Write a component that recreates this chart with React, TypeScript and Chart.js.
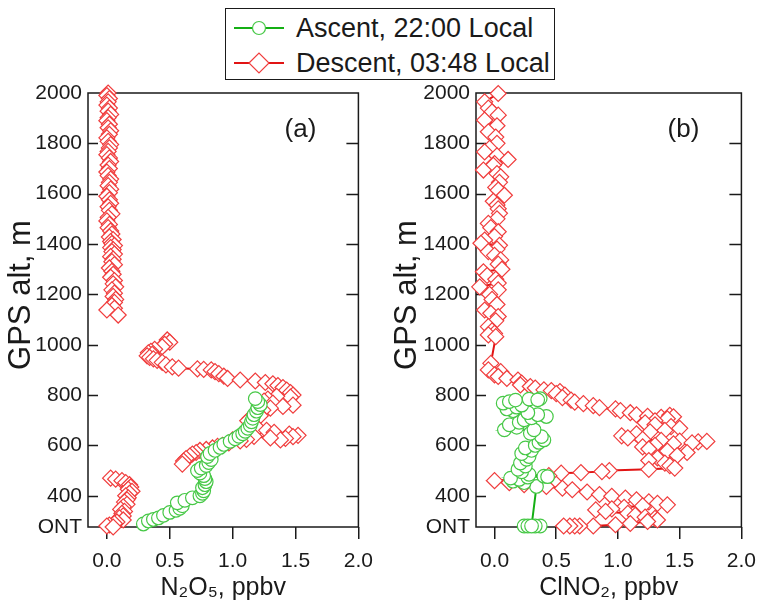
import React, { useEffect, useRef } from "react";
import { Chart, registerables } from "chart.js";

Chart.register(...registerables);

const FONT = "'Liberation Sans', Arial, Helvetica, sans-serif";

// ---- axes ----
const X_MIN = -0.15;
const X_MAX = 2.0;
const Y_MIN = 276; // ONT ground level
const Y_MAX = 2000;
const xTickValues = [0, 0.5, 1.0, 1.5, 2.0];
const yTickValues = [276, 400, 600, 800, 1000, 1200, 1400, 1600, 1800, 2000];
const yTickLabels = ["ONT", "400", "600", "800", "1000", "1200", "1400", "1600", "1800", "2000"];
const yTitle = "GPS alt, m";

const seriesLabels = ["Ascent, 22:00 Local", "Descent, 03:48 Local"];

// ---- panel (a): N2O5 ----
const aAscentAlt = [
  288, 300, 306, 312, 322, 334, 342, 350, 360, 372,
  382, 392, 400, 410, 420, 432, 444, 456, 468, 480,
  490, 500, 510, 520, 532, 544, 556, 568, 580, 592,
  604, 616, 626, 636, 646, 656, 668, 680, 694, 708,
  722, 736, 750, 762, 774, 786,
];
const aAscentN2O5 = [
  0.29, 0.33, 0.37, 0.41, 0.45, 0.50, 0.55, 0.58, 0.60, 0.56,
  0.62, 0.68, 0.74, 0.76, 0.77, 0.76, 0.78, 0.79, 0.78, 0.77,
  0.74, 0.72, 0.75, 0.79, 0.81, 0.83, 0.80, 0.82, 0.86, 0.90,
  0.93, 0.98, 1.02, 1.05, 1.08, 1.10, 1.12, 1.14, 1.15, 1.16,
  1.17, 1.19, 1.20, 1.22, 1.20, 1.18,
];
const aDescentAlt = [
  2000, 1990, 1978, 1965, 1952, 1940, 1928, 1915, 1902, 1890,
  1876, 1862, 1850, 1836, 1822, 1808, 1795, 1782, 1768, 1755,
  1742, 1728, 1714, 1700, 1686, 1672, 1658, 1645, 1632, 1618,
  1604, 1590, 1576, 1562, 1548, 1534, 1520, 1506, 1492, 1478,
  1465, 1452, 1440, 1428, 1418, 1410, 1402, 1394, 1386, 1378,
  1370, 1360, 1350, 1340, 1330, 1318, 1305, 1292, 1280, 1268,
  1255, 1242, 1230, 1218, 1205, 1192, 1180, 1168, 1156, 1145,
  1138, 1118, null,
  1019, 1010, 1002, 992, 982, 974, 968, 962, 956, 950,
  944, 938, 930, 920, 912, 907, 904, 902, 900, 893,
  885, 875, 866, 860, 856, 850, 845, 838, 830, 820,
  810, 800, 792, 795, 784, 776, 768, 760, 755, 748,
  740, 728, 718, 708, 698, 688, 676, 668, 660, 652,
  645, 640, 635, 628, 622, 630, 636, 624, 618, 622,
  610, 600, 596, 590, 584, 580, 572, 566, 558, 548,
  538, 526, null,
  470, 466, 460, 452, 444, 435, 426, 418, 410, 400,
  392, 384, 375, 366, 356, 346, 338, 330, 320, 312,
  304, 296, 290, 284, 280, 276,
];
const aDescentN2O5 = [
  0.01, 0.00, 0.02, 0.01, 0.00, 0.02, 0.01, 0.03, 0.01, 0.00,
  0.02, 0.01, 0.03, 0.02, 0.00, 0.01, 0.03, 0.02, 0.01, 0.00,
  0.02, 0.03, 0.01, 0.02, 0.00, 0.01, 0.03, 0.02, 0.01, 0.03,
  0.02, 0.00, 0.02, 0.03, 0.01, 0.02, 0.04, 0.01, 0.00, 0.02,
  0.01, 0.03, 0.04, 0.02, 0.05, 0.03, 0.04, 0.06, 0.03, 0.05,
  0.04, 0.06, 0.03, 0.05, 0.04, 0.06, 0.02, 0.04, 0.05, 0.03,
  0.06, 0.05, 0.07, 0.04, 0.06, 0.05, 0.07, 0.06, 0.04, 0.06,
  0.00, 0.09, null,
  0.48, 0.50, 0.46, 0.44, 0.38, 0.35, 0.33, 0.36, 0.32, 0.34,
  0.37, 0.40, 0.44, 0.47, 0.52, 0.57, 0.72, 0.77, 0.83, 0.86,
  0.89, 0.93, 0.96, 1.06, 1.18, 1.26, 1.32, 1.36, 1.40, 1.43,
  1.46, 1.48, 1.46, 1.35, 1.28, 1.25, 1.32, 1.48, 1.40, 1.30,
  1.24, 1.20, 1.22, 1.14, 1.12, 1.16, 1.14, 1.20, 1.27, 1.33,
  1.45, 1.52, 1.48, 1.42, 1.38, 1.30, 1.17, 1.11, 1.06, 1.00,
  0.97, 0.92, 0.88, 0.84, 0.79, 0.74, 0.71, 0.68, 0.66, 0.63,
  0.61, 0.60, null,
  0.03, 0.07, 0.12, 0.15, 0.18, 0.19, 0.17, 0.20, 0.18, 0.15,
  0.17, 0.16, 0.14, 0.16, 0.13, 0.11, 0.14, 0.12, 0.13, 0.10,
  0.13, 0.08, 0.06, 0.02, 0.00, 0.05,
];

// ---- panel (b): ClNO2 ----
const bAscentAlt = [
  280, 280, 280, 280, 280, 437, 452, 458, 465, 470,
  474, 478, 476, 485, 495, 505, 518, 530, 545, 556,
  568, 580, 590, 600, 612, 622, 635, 648, 662, 662,
  672, 682, 692, 702, 710, 715, 722, 730, 738, 745,
  752, 760, 768, 774, 780, 784, 786, 781,
];
const bAscentClNO2 = [
  0.24, 0.27, 0.37, 0.33, 0.30, 0.34, 0.24, 0.15, 0.20, 0.13,
  0.27, 0.40, 0.43, 0.28, 0.22, 0.19, 0.25, 0.21, 0.26, 0.28,
  0.22, 0.30, 0.25, 0.33, 0.36, 0.40, 0.38, 0.29, 0.32, 0.08,
  0.18, 0.12, 0.20, 0.24, 0.30, 0.42, 0.35, 0.27, 0.15, 0.10,
  0.18, 0.22, 0.07, 0.12, 0.17, 0.28, 0.37, 0.35,
];
const bDescentAlt = [
  1998, 1965, 1940, 1925, 1912, 1892, 1870, 1846, 1825, 1800,
  1780, 1766, 1750, 1736, 1720, 1713, 1694, 1680, 1667, 1645,
  1625, 1614, 1594, 1570, 1555, 1540, 1522, 1500, 1482, 1465,
  1449, 1430, 1416, 1403, 1395, 1380, 1370, 1355, 1337, 1320,
  1300, 1290, 1275, 1260, 1245, 1230, 1218, 1200, 1180, 1160,
  1138, 1125, 1112, 1095, 1072, 1055, 1045, 1039, 1032, 926,
  900, 893, 880, 874, 866, 860, 848, 840, 834, 828,
  821, 818, 814, 806, 800, 790, 780, 772, 766, 758,
  750, 745, 738, 730, 722, 716, 712, 720, 714, 706,
  698, 690, 682, 675, 668, 660, 654, 646, 638, 630,
  624, 620, 617, 614, 616, 610, 606, 600, 594, 586,
  578, 572, 560, 550, 540, 530, 520, 510, 505, 500,
  496, 492, 490, 480, 470, 460, 452, 444, 437, 430,
  424, 415, 405, 398, 391, 384, 376, 370, 364, 360,
  354, 348, 344, 338, 330, 322, 315, 310, 304, 298,
  290, 285, 280, 280, 280, 280, 280,
];
const bDescentClNO2 = [
  0.03, -0.08, -0.05, -0.02, 0.03, -0.08, 0.02, -0.05, 0.01, 0.02,
  -0.04, -0.08, 0.02, 0.11, 0.00, -0.01, -0.09, 0.02, 0.05, 0.04,
  0.01, 0.03, 0.08, -0.01, 0.02, 0.03, 0.04, 0.02, -0.05, -0.03,
  0.03, 0.00, -0.08, -0.11, 0.04, 0.02, -0.05, 0.00, 0.05, 0.03,
  0.06, -0.09, -0.06, 0.01, 0.03, -0.12, 0.03, -0.04, -0.02, 0.02,
  -0.08, -0.03, 0.03, 0.01, -0.05, -0.02, 0.00, -0.05, 0.01, -0.03,
  -0.05, 0.05, 0.00, 0.03, 0.10, 0.19, 0.22, 0.21, 0.29, 0.33,
  0.40, 0.46, 0.53, 0.50, 0.57, 0.55, 0.62, 0.65, 0.72, 0.80,
  0.85, 0.98, 1.02, 1.10, 1.15, 1.24, 1.35, 1.42, 1.45, 1.40,
  1.30, 1.22, 1.30, 1.43, 1.50, 1.38, 1.26, 1.15, 1.03, 1.08,
  1.20, 1.35, 1.50, 1.65, 1.72, 1.60, 1.45, 1.30, 1.20, 1.25,
  1.40, 1.56, 1.48, 1.32, 1.25, 1.38, 1.42, 1.46, 1.25, 0.93,
  0.87, 0.70, 0.54, 0.44, 0.30, 0.00, 0.12, 0.24, 0.42, 0.55,
  0.63, 0.75, 0.85, 0.95, 1.06, 1.15, 1.25, 1.32, 1.40, 1.20,
  1.05, 0.95, 0.82, 0.90, 1.08, 1.14, 1.22, 1.30, 1.32, 1.24,
  1.10, 0.98, 0.80, 0.69, 0.65, 0.61, 0.56,
];

// ---- styles ----
const GREEN_MARK = "rgb(70,200,70)";
const GREEN_LINE = "rgb(20,175,20)";
const RED_MARK = "rgb(240,60,60)";
const RED_LINE = "rgb(225,20,20)";
const INK = "#1a1a1a";

function toPoints(xs: (number | null)[], ys: (number | null)[]) {
  return xs.map((v, i) => ({ x: v, y: ys[i] }));
}

const framePlugin = {
  id: "frame",
  beforeDatasetsDraw(chart: any, _args: any, opts: any) {
    const { ctx, chartArea, scales } = chart;
    const { left, right, top, bottom } = chartArea;
    ctx.save();
    ctx.strokeStyle = INK;
    ctx.lineWidth = 1.5;
    ctx.strokeRect(left, top, right - left, bottom - top);
    ctx.beginPath();
    yTickValues.forEach((v) => {
      if (v === Y_MIN || v === Y_MAX) return;
      const y = Math.round(scales.y.getPixelForValue(v)) + 0.5;
      ctx.moveTo(left, y);
      ctx.lineTo(left + 10, y);
      ctx.moveTo(right - 12, y);
      ctx.lineTo(right, y);
    });
    ctx.stroke();
    ctx.fillStyle = INK;
    // panel letter
    ctx.font = `26px ${FONT}`;
    ctx.textAlign = "center";
    ctx.textBaseline = "middle";
    ctx.fillText(opts.label, right - 58, top + 37);
    // y-axis title (rotated), centred a little above the plot centre as in the source figure
    ctx.save();
    ctx.font = `31px ${FONT}`;
    ctx.translate(opts.yTitleX, (top + bottom) / 2 - 15);
    ctx.rotate(-Math.PI / 2);
    ctx.fillText(yTitle, 0, 0);
    ctx.restore();
    ctx.restore();
  },
};

function makeConfig(p: {
  ascX: number[];
  ascY: number[];
  desX: (number | null)[];
  desY: (number | null)[];
  xTitle: string;
  label: string;
  yAxisWidth: number;
  padRight: number;
  yTitleX: number;
}) {
  return {
    type: "scatter",
    data: {
      datasets: [
        {
          label: seriesLabels[0],
          data: toPoints(p.ascX, p.ascY),
          showLine: true,
          borderColor: GREEN_LINE,
          borderWidth: 2,
          pointStyle: "circle",
          pointRadius: 6.8,
          pointBorderColor: GREEN_MARK,
          pointBackgroundColor: "#ffffff",
          pointBorderWidth: 1.2,
          clip: false,
        },
        {
          label: seriesLabels[1],
          data: toPoints(p.desX, p.desY),
          showLine: true,
          spanGaps: false,
          borderColor: RED_LINE,
          borderWidth: 2,
          pointStyle: "rectRot",
          pointRadius: 8,
          pointBorderColor: RED_MARK,
          pointBackgroundColor: "#ffffff",
          pointBorderWidth: 1.2,
          clip: false,
        },
      ],
    },
    options: {
      animation: false,
      responsive: false,
      maintainAspectRatio: false,
      events: [],
      layout: { padding: { left: 0, top: 93, right: p.padRight, bottom: 0 } },
      plugins: {
        legend: { display: false },
        tooltip: { enabled: false },
        frame: { label: p.label, yTitleX: p.yTitleX },
      },
      scales: {
        x: {
          type: "linear",
          min: X_MIN,
          max: X_MAX,
          afterBuildTicks: (s: any) => {
            s.ticks = xTickValues.map((v) => ({ value: v }));
          },
          afterFit: (s: any) => {
            s.height = 78;
          },
          ticks: {
            callback: (v: any) => Number(v).toFixed(1),
            font: { family: FONT, size: 21 },
            color: INK,
            padding: 10,
            maxRotation: 0,
            autoSkip: false,
          },
          grid: {
            display: true,
            drawOnChartArea: false,
            drawTicks: true,
            tickLength: 12,
            color: INK,
            lineWidth: 1.5,
          },
          border: { display: false },
          title: {
            display: true,
            text: p.xTitle,
            color: INK,
            font: { family: FONT, size: 25, lineHeight: 1 },
            padding: { top: 0, bottom: 4 },
          },
        },
        y: {
          type: "linear",
          min: Y_MIN,
          max: Y_MAX,
          afterBuildTicks: (s: any) => {
            s.ticks = yTickValues.map((v) => ({ value: v }));
          },
          afterFit: (s: any) => {
            s.width = p.yAxisWidth;
          },
          ticks: {
            callback: (v: any) => {
              const i = yTickValues.indexOf(Number(v));
              return i >= 0 ? yTickLabels[i] : "";
            },
            font: { family: FONT, size: 21 },
            color: INK,
            padding: 6,
            autoSkip: false,
          },
          grid: { display: false, drawTicks: false },
          border: { display: false },
          title: { display: false },
        },
      },
    },
    plugins: [framePlugin],
  };
}

function Panel({ config, left }: { config: any; left: number }) {
  const ref = useRef<HTMLCanvasElement | null>(null);
  useEffect(() => {
    if (!ref.current) return;
    const chart = new Chart(ref.current, config);
    return () => chart.destroy();
  }, []);
  return (
    <canvas
      ref={ref}
      width={383}
      height={605}
      style={{ position: "absolute", left, top: 0, width: 383, height: 605 }}
    />
  );
}

function LegendRow({ top, kind, text }: { top: number; kind: "circle" | "diamond"; text: string }) {
  const green = kind === "circle";
  return (
    <div style={{ position: "absolute", left: 0, top, height: 30, width: "100%" }}>
      <svg width={60} height={30} style={{ position: "absolute", left: 6, top: 0 }}>
        <line x1={2} y1={15} x2={52} y2={15} stroke={green ? GREEN_LINE : RED_LINE} strokeWidth={2} />
        {green ? (
          <circle cx={27} cy={15} r={6.5} fill="#fff" stroke={GREEN_MARK} strokeWidth={1.2} />
        ) : (
          <polygon points="17,15 27,5 37,15 27,25" fill="#fff" stroke={RED_MARK} strokeWidth={1.2} />
        )}
      </svg>
      <span
        style={{
          position: "absolute",
          left: 70,
          top: 0,
          lineHeight: "30px",
          fontSize: 27,
          fontFamily: FONT,
          color: INK,
          whiteSpace: "nowrap",
        }}
      >
        {text}
      </span>
    </div>
  );
}

export default function App() {
  const cfgA = makeConfig({
    ascX: aAscentN2O5,
    ascY: aAscentAlt,
    desX: aDescentN2O5,
    desY: aDescentAlt,
    xTitle: "N₂O₅, ppbv",
    label: "(a)",
    yAxisWidth: 88,
    padRight: 24,
    yTitleX: 21,
  });
  const cfgB = makeConfig({
    ascX: bAscentClNO2,
    ascY: bAscentAlt,
    desX: bDescentClNO2,
    desY: bDescentAlt,
    xTitle: "ClNO₂, ppbv",
    label: "(b)",
    yAxisWidth: 93,
    padRight: 18,
    yTitleX: 24,
  });
  return (
    <div style={{ position: "absolute", left: 0, top: 0, width: 766, height: 605, background: "#fff", overflow: "hidden" }}>
      <Panel config={cfgA} left={0} />
      <Panel config={cfgB} left={383} />
      <div
        style={{
          position: "absolute",
          left: 225,
          top: 8,
          width: 330,
          height: 72,
          boxSizing: "border-box",
          border: `1.5px solid ${INK}`,
          background: "#fff",
        }}
      >
        <LegendRow top={4} kind="circle" text={seriesLabels[0]} />
        <LegendRow top={39} kind="diamond" text={seriesLabels[1]} />
      </div>
    </div>
  );
}
